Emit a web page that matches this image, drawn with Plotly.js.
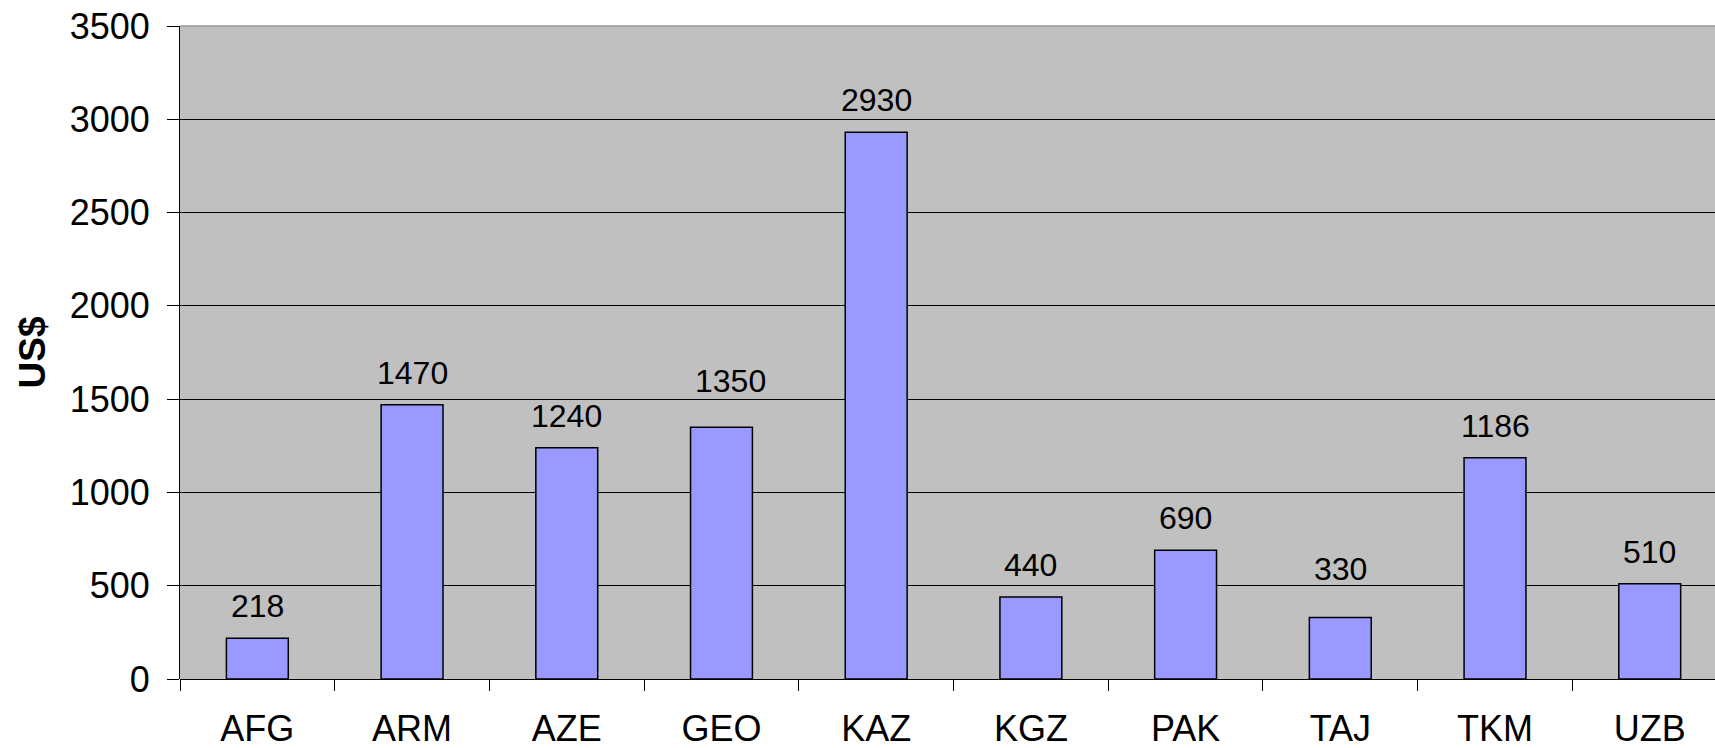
<!DOCTYPE html>
<html>
<head>
<meta charset="utf-8">
<script src="https://cdn.plot.ly/plotly-3.0.1.min.js"></script>
<style>
html,body{margin:0;padding:0;background:#fff;}
#chart{width:1715px;height:748px;}
</style>
</head>
<body>
<div id="chart"></div>
<script>
var categories = ["AFG","ARM","AZE","GEO","KAZ","KGZ","PAK","TAJ","TKM","UZB"];
var values = [218,1470,1240,1350,2930,440,690,330,1186,510];
var yTicks = [0,500,1000,1500,2000,2500,3000,3500];
var yTitle = "US$";

var FONT = "Liberation Sans, Arial, sans-serif";

var trace = {
  type: "bar",
  x: categories,
  y: values,
  width: 0.4,
  marker: {color: "#9999FF", line: {color: "#000000", width: 1.5}},
  hoverinfo: "x+y"
};

// manual label nudges (pixels) as placed in the original chart
var labelNudge = {GEO: {dx: 9, dy: 14}, TAJ: {dx: 0, dy: 16}};

var annotations = categories.map(function(c, i){
  var n = labelNudge[c] || {dx: 0, dy: 0};
  return {
    x: c, y: values[i], xref: "x", yref: "y",
    text: String(values[i]),
    showarrow: false,
    yanchor: "bottom",
    yshift: 12 + n.dy,
    xshift: n.dx,
    font: {family: FONT, size: 32, color: "#000"}
  };
});

var layout = {
  width: 1715, height: 748,
  margin: {l: 180, r: 0, t: 26, b: 69, pad: 0},
  paper_bgcolor: "#ffffff",
  plot_bgcolor: "#C0C0C0",
  showlegend: false,
  font: {family: FONT, color: "#000"},
  xaxis: {
    type: "category",
    range: [-0.5, 9.422],
    tickson: "boundaries",
    ticks: "outside",
    ticklen: 11,
    tickwidth: 1,
    tickcolor: "#000",
    showgrid: false,
    showline: false,
    zeroline: false,
    tickfont: {family: FONT, size: 36, color: "#000"},
    ticklabelstandoff: 25,
    fixedrange: true
  },
  yaxis: {
    range: [0, 3500],
    tickvals: yTicks,
    ticktext: yTicks.map(String),
    ticks: "outside",
    ticklen: 12,
    tickwidth: 1,
    tickcolor: "#000",
    showgrid: true,
    gridcolor: "#000000",
    gridwidth: 1,
    showline: true,
    linecolor: "#000",
    linewidth: 1,
    zeroline: true,
    zerolinecolor: "#000",
    zerolinewidth: 1,
    tickfont: {family: FONT, size: 36, color: "#000"},
    ticklabelstandoff: 10,
    title: {text: "<b>" + yTitle + "</b>", font: {family: FONT, size: 37, color: "#000"}, standoff: 12},
    fixedrange: true
  },
  shapes: [{
    type: "line", xref: "paper", yref: "paper",
    x0: 0, x1: 1, y0: 1, y1: 1,
    line: {color: "#999999", width: 1.5}
  }],
  annotations: annotations
};

Plotly.newPlot("chart", [trace], layout, {displayModeBar: false, staticPlot: true});
</script>
</body>
</html>
